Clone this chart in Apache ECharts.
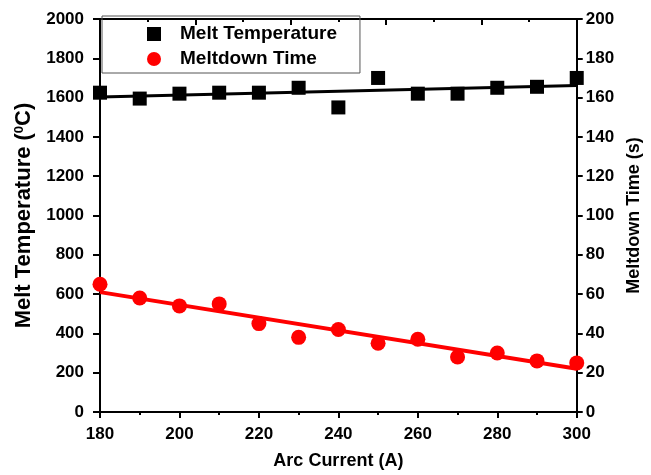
<!DOCTYPE html>
<html>
<head>
<meta charset="utf-8">
<script src="https://cdn.jsdelivr.net/npm/echarts@6/dist/echarts.min.js"></script>
<style>html,body{margin:0;padding:0;background:#fff}#c{width:651px;height:475px}</style>
</head>
<body>
<div id="c"></div>
<script>
const arcCurrent = [180, 190, 200, 210, 220, 230, 240, 250, 260, 270, 280, 290, 300];
const meltTemperature = [1625, 1595, 1620, 1625, 1625, 1650, 1550, 1700, 1620, 1620, 1650, 1655, 1700];
const meltdownTime = [65, 58, 54, 55, 45, 38, 42, 35, 37, 28, 30, 26, 25];
const fitX = [180, 300];
const meltFit = [1603, 1662];
const timeFit = [61, 22];
const seriesNames = ['Melt Temperature', 'Meltdown Time'];

const FONT = 'Arial, "Liberation Sans", sans-serif';
const pairs = (xs, ys) => xs.map((x, i) => [x, ys[i]]);
const plain = v => String(v);
const lbl = {color: '#000', fontFamily: FONT, fontWeight: 'bold', fontSize: 17, formatter: plain};
const axLine = {show: true, onZero: false, lineStyle: {color: '#000', width: 2}};

const chart = echarts.init(document.getElementById('c'), null, {renderer: 'canvas'});
chart.setOption({
  animation: false,
  backgroundColor: '#fff',
  grid: {left: 100, right: 62, top: 19, bottom: 57},
  legend: {
    data: seriesNames,
    orient: 'vertical',
    left: 102, top: 16,
    padding: [8, 23, 4, 45],
    itemWidth: 14, itemHeight: 14, itemGap: 5,
    borderColor: '#555', borderWidth: 1,
    textStyle: {color: '#000', fontFamily: FONT, fontWeight: 'bold', fontSize: 19, lineHeight: 20, padding: [0, 0, 0, 14]}
  },
  xAxis: [{
    type: 'value', min: 180, max: 300, interval: 20, position: 'bottom',
    name: 'Arc Current (A)', nameLocation: 'middle', nameGap: 40,
    nameTextStyle: {color: '#000', fontFamily: FONT, fontWeight: 'bold', fontSize: 18},
    axisLine: axLine,
    axisTick: {show: true, inside: false, length: 6, lineStyle: {color: '#000', width: 2}},
    minorTick: {show: true, splitNumber: 2, length: 3, lineStyle: {color: '#000', width: 2}},
    axisLabel: Object.assign({margin: 14}, lbl),
    splitLine: {show: false}
  }, {
    type: 'value', min: 0, max: 10, interval: 2, position: 'top',
    axisLine: axLine,
    axisTick: {show: true, inside: true, length: 6, lineStyle: {color: '#000', width: 2}},
    minorTick: {show: true, splitNumber: 2, length: 3, lineStyle: {color: '#000', width: 2}},
    axisLabel: {show: false},
    splitLine: {show: false}
  }],
  yAxis: [{
    type: 'value', min: 0, max: 2000, interval: 200, position: 'left',
    name: 'Melt Temperature ({s|0}C)', nameLocation: 'middle', nameGap: 54, nameRotate: 90,
    nameTextStyle: {color: '#000', fontFamily: FONT, fontWeight: 'bold', fontSize: 22,
      rich: {s: {fontFamily: FONT, fontWeight: 'bold', fontSize: 13, verticalAlign: 'top', padding: [0, 0, 9, 0], color: '#000'}}},
    axisLine: axLine,
    axisTick: {show: true, inside: false, length: 7, lineStyle: {color: '#000', width: 2}},
    axisLabel: Object.assign({margin: 16}, lbl),
    splitLine: {show: false}
  }, {
    type: 'value', min: 0, max: 200, interval: 20, position: 'right',
    name: 'Meltdown Time (s)', nameLocation: 'middle', nameGap: 30, nameRotate: 90,
    nameTextStyle: {color: '#000', fontFamily: FONT, fontWeight: 'bold', fontSize: 18},
    axisLine: axLine,
    axisTick: {show: true, inside: false, length: 6, lineStyle: {color: '#000', width: 2}},
    axisLabel: Object.assign({margin: 9}, lbl),
    splitLine: {show: false}
  }],
  series: [{
    name: seriesNames[0], type: 'scatter', xAxisIndex: 0, yAxisIndex: 0,
    symbol: 'rect', symbolSize: 14, itemStyle: {color: '#000', opacity: 1},
    data: pairs(arcCurrent, meltTemperature), z: 3
  }, {
    name: seriesNames[1], type: 'scatter', xAxisIndex: 0, yAxisIndex: 1,
    symbol: 'circle', symbolSize: 15, itemStyle: {color: '#ff0000', opacity: 1},
    data: pairs(arcCurrent, meltdownTime), z: 3
  }, {
    name: 'Melt fit', type: 'line', xAxisIndex: 0, yAxisIndex: 0,
    showSymbol: false, symbol: 'none', lineStyle: {color: '#000', width: 3},
    data: pairs(fitX, meltFit), z: 4
  }, {
    name: 'Time fit', type: 'line', xAxisIndex: 0, yAxisIndex: 1,
    showSymbol: false, symbol: 'none', lineStyle: {color: '#ff0000', width: 4},
    data: pairs(fitX, timeFit), z: 4
  }]
});
</script>
</body>
</html>
